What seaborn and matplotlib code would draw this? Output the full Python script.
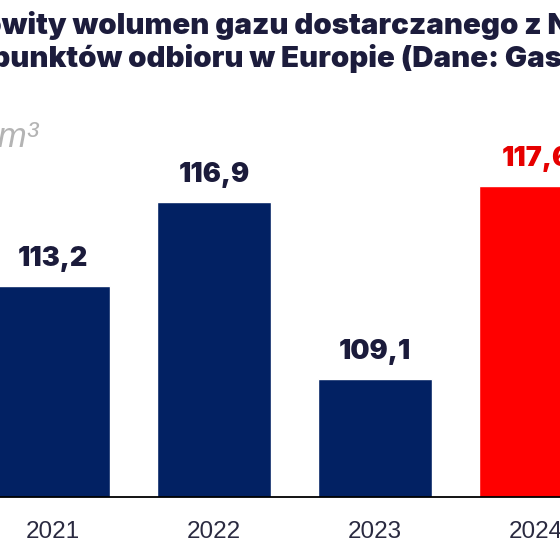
import matplotlib
matplotlib.use("Agg")
import matplotlib.pyplot as plt
import pandas as pd
import seaborn as sns

# data
years = ["2021", "2022", "2023", "2024"]
volumes = [113.2, 116.9, 109.1, 117.6]
labels = ["113,2", "116,9", "109,1", "117,6"]
bar_colors = ["#022163", "#022163", "#022163", "#ff0000"]
label_colors = ["#1b1b3b", "#1b1b3b", "#1b1b3b", "#e60000"]
title_lines = ["Całkowity wolumen gazu dostarczanego z Norwegii",
               "do punktów odbioru w Europie (Dane: Gassco)"]
unit = "mld m³"

df = pd.DataFrame({"year": years, "volume": volumes})

sns.set_theme(style="white")
plt.rcParams["font.family"] = ["Liberation Sans", "DejaVu Sans"]

W = H = 560
fig = plt.figure(figsize=(5.6, 5.6), dpi=100)
ax = fig.add_axes([0, 63 / H, 1, 497 / H])

sns.barplot(data=df, x="year", y="volume", hue="year", palette=bar_colors,
            width=0.71, legend=False, ax=ax, saturation=1)

ax.set_xlim(-0.329, 3.149)
ax.set_ylim(103.9, 125.8)
ax.set_xlabel("")
ax.set_ylabel("")
ax.set_yticks([])
for s in ["left", "right", "top"]:
    ax.spines[s].set_visible(False)
ax.spines["bottom"].set_color("black")
ax.spines["bottom"].set_linewidth(1.3)
ax.tick_params(axis="x", length=0, pad=17, labelsize=17.5, labelcolor="#2a2a40")

for i, (v, lab, c) in enumerate(zip(volumes, labels, label_colors)):
    ax.annotate(lab, (i, v), xytext=(0, 14.5), textcoords="offset points",
                ha="center", va="baseline", fontsize=19.5, fontweight="black",
                color=c, family=["Inter", "DejaVu Sans"])

fig.canvas.draw()
r = fig.canvas.get_renderer()


def width_px(s, **kw):
    t = fig.text(0, 0, s, **kw)
    w = t.get_window_extent(r).width
    t.remove()
    return w


tkw = dict(fontsize=21.2, fontweight="black", color="#1c1c3c",
           family=["Inter", "DejaVu Sans"])
off1 = width_px("Całkow", **tkw) - width_px("w", **tkw)
off2 = width_px("do pu", **tkw) - width_px("u", **tkw)
fig.text((2 - off1) / W, 1 - 34 / H, title_lines[0], ha="left", va="baseline", **tkw)
fig.text((10 - off2) / W, 1 - 67 / H, title_lines[1], ha="left", va="baseline", **tkw)

ukw = dict(fontsize=25, style="italic", color="#b4b4b4")
offu = width_px("mld m", **ukw) - width_px("m", **ukw)
fig.text((-2 - offu) / W, 1 - 147 / H, unit, ha="left", va="baseline", **ukw)

fig.savefig("out.png", dpi=100)
